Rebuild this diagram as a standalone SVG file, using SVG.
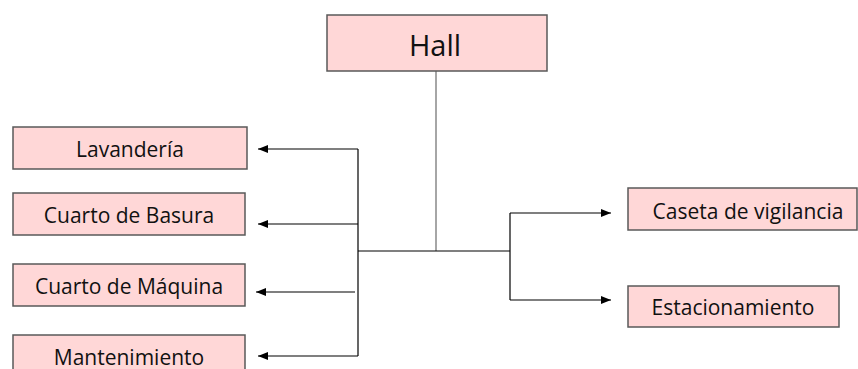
<svg xmlns="http://www.w3.org/2000/svg" width="858" height="369" viewBox="0 0 858 369">
<style>
.box{fill:#FFD7D7;stroke:#595959;stroke-width:1.5}
.t{font-family:"Open Sans",Lato,sans-serif;font-size:21px;fill:#111;text-anchor:middle;dominant-baseline:central}
.ln{fill:none;stroke:#000;stroke-width:1.2}
</style>
<defs>
<marker id="ah" markerWidth="10" markerHeight="8" refX="10" refY="4" orient="auto" markerUnits="userSpaceOnUse">
<path d="M0,0 L10,4 L0,8 Z" fill="#000"/>
</marker>
</defs>
<rect width="858" height="369" fill="#fff"/>
<g id="connectors">
<line x1="436" y1="71" x2="436" y2="251" style="fill:none;stroke:#888;stroke-width:1.5"/>
<path class="ln" d="M358,149 V356"/>
<path class="ln" d="M358,251 H510"/>
<path class="ln" d="M510,213 V300"/>
<path class="ln" d="M358,149 H258" marker-end="url(#ah)"/>
<path class="ln" d="M358,224 H258" marker-end="url(#ah)"/>
<path class="ln" d="M355,292 H256" marker-end="url(#ah)"/>
<path class="ln" d="M358,356 H258" marker-end="url(#ah)"/>
<path class="ln" d="M510,213 H611" marker-end="url(#ah)"/>
<path class="ln" d="M510,300 H611" marker-end="url(#ah)"/>
</g>
<g id="hall"><rect class="box" x="327" y="15" width="220" height="56"/><text class="t" x="435" y="44" style="font-size:29px">Hall</text></g>
<g id="lavanderia"><rect class="box" x="13" y="127" width="234" height="42"/><text class="t" x="130" y="149">Lavandería</text></g>
<g id="basura"><rect class="box" x="13" y="193" width="232" height="42"/><text class="t" x="129" y="215">Cuarto de Basura</text></g>
<g id="maquina"><rect class="box" x="13" y="264" width="232" height="42"/><text class="t" x="129" y="286">Cuarto de Máquina</text></g>
<g id="mantenimiento"><rect class="box" x="13" y="335" width="232" height="42"/><text class="t" x="129" y="357">Mantenimiento</text></g>
<g id="caseta"><rect class="box" x="628" y="188" width="229" height="42"/><text class="t" x="748" y="211">Caseta de vigilancia</text></g>
<g id="estacionamiento"><rect class="box" x="628" y="286" width="211" height="41"/><text class="t" x="733" y="307">Estacionamiento</text></g>
</svg>
